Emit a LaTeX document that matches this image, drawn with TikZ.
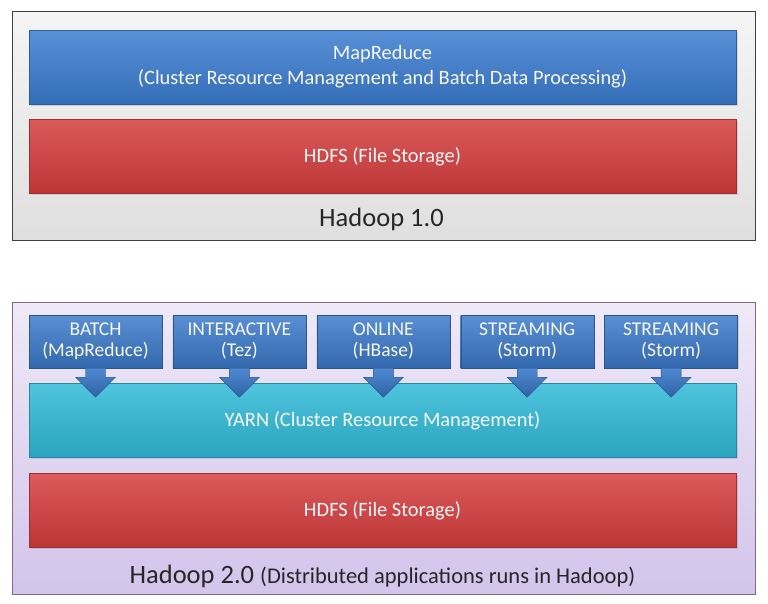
\documentclass[tikz,border=0pt]{standalone}
\usepackage{fontspec}
\setmainfont{Carlito}
\usetikzlibrary{positioning,calc,shadows}
\definecolor{mrBlue}{HTML}{3B7DD0}
\definecolor{fsRed}{HTML}{D63D3D}
\definecolor{yarnCyan}{HTML}{30BAD8}
\definecolor{appBlue}{HTML}{3C7BCC}
\definecolor{lilacTop}{HTML}{EFE9F7}
\definecolor{lilacBot}{HTML}{D3C4EB}

\begin{document}
\begin{tikzpicture}[
      x=1pt, y=-1pt,
      every node/.style={font=\fontsize{20.4}{25}\selectfont, text=white!94!gray, align=center, inner sep=0pt},
      layerBar/.style={minimum width=707pt, minimum height=74pt, draw=#1!75!black, top color=#1!85!white, bottom color=#1!88!black,
        drop shadow={opacity=0.25, shadow xshift=1.5pt, shadow yshift=-1.5pt}},
      appBox/.style={minimum width=133pt, minimum height=53pt, draw=appBlue!70!black, top color=appBlue!85!white, bottom color=appBlue!85!black,
        font=\fontsize{19.5}{21}\selectfont, drop shadow={opacity=0.25, shadow xshift=1pt, shadow yshift=-1pt}},
      downArrow/.style={draw=appBlue!65!black, top color=appBlue!90!white, bottom color=appBlue!80!black},
      caption/.style={text=black!85, font=\fontsize{26.5}{30}\selectfont}
    ]
  \useasboundingbox (0,0) rectangle (768,603);
  \fill[white] (0,0) rectangle (768,603);

  % --- Hadoop 1.0 ---
  \shade[top color=gray!8, bottom color=gray!25, draw=black!75] (12,11) rectangle (755,240);
  \node (mr)    [layerBar=mrBlue] at (382.5,67)  {MapReduce\\(Cluster Resource Management and Batch Data Processing)};
  \node (hdfsA) [layerBar=fsRed]  at (382.5,156.5) {HDFS (File Storage)};
  \node (capA)  [caption] at (381.5,219) {Hadoop 1.0};

  % --- Hadoop 2.0 ---
  \shade[top color=lilacTop, bottom color=lilacBot, draw=gray!85!violet] (12,302) rectangle (755,594);
  \node (yarn)  [layerBar=yarnCyan] at (382.5,420.5) {YARN (Cluster Resource Management)};
  \node (hdfsB) [layerBar=fsRed]    at (382.5,510.5) {HDFS (File Storage)};

  \node (batch)       [appBox] at (95.5,341.5)        {BATCH\\(MapReduce)};
  \node (interactive) [appBox, right=10.5pt of batch]       {INTERACTIVE\\(Tez)};
  \node (online)      [appBox, right=10.5pt of interactive] {ONLINE\\(HBase)};
  \node (streamA)     [appBox, right=10.5pt of online]      {STREAMING\\(Storm)};
  \node (streamB)     [appBox, right=10.5pt of streamA]     {STREAMING\\(Storm)};

  % Blockpfeile von den Anwendungen auf YARN
  \foreach \a in {batch,interactive,online,streamA,streamB} {
    \shade[downArrow] ($(\a.south)+(-10,0)$) -- ++(0,9) -- ++(-10,0)
      -- ($(\a.south)+(0,29)$) -- ($(\a.south)+(20,9)$) -- ++(-10,0)
      -- ($(\a.south)+(10,0)$) -- cycle;
  }

  \node (capB) [caption] at (382.5,576) {Hadoop 2.0 {\fontsize{22.5}{26}\selectfont (Distributed applications runs in Hadoop)}};
\end{tikzpicture}
\end{document}
